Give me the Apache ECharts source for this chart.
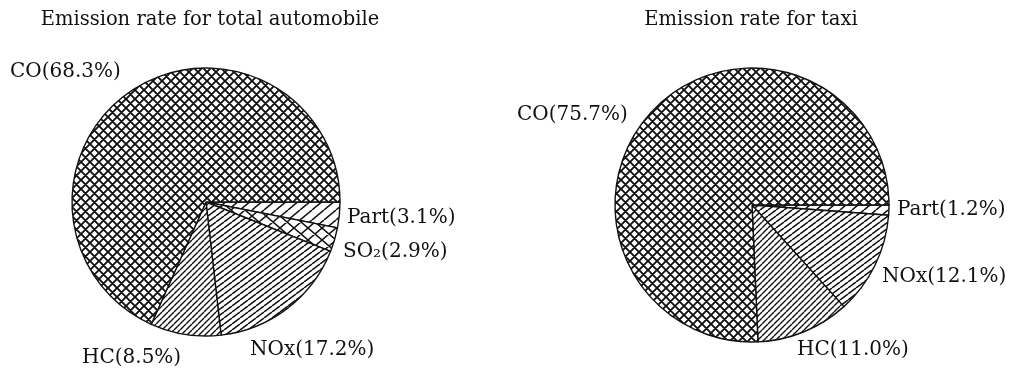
<!DOCTYPE html>
<html>
<head>
<meta charset="utf-8">
<script src="https://cdn.jsdelivr.net/npm/echarts@6/dist/echarts.min.js"></script>
<style>
  html, body { margin: 0; padding: 0; background: #fff; }
  #main { width: 1016px; height: 369px; }
</style>
</head>
<body>
<div id="main"></div>
<script>
// data
const totalNames = ['Part', 'SO₂', 'NOx', 'HC', 'CO']
const totalValues = [3.1, 2.9, 17.2, 8.5, 68.3]
const taxiNames = ['Part', 'NOx', 'HC', 'CO']
const taxiValues = [1.2, 12.1, 11.0, 75.7]
const titles = ['Emission rate for total automobile', 'Emission rate for taxi']

// label anchors (left edge, vertical middle of text)
const labelPos = [
  [[347, 218], [343, 252], [250, 350], [82, 358], [10, 72]],
  [[897, 210], [882, 277], [797, 350], [517, 115]]
]

const FONT = '20px "DejaVu Serif", "Liberation Serif", serif'

// hatch patterns on small w x h tiles; fwd = "/" lines, back = "\" lines
function hatch(w, h, lw, fwd, back) {
  const c = document.createElement('canvas')
  c.width = w; c.height = h
  const g = c.getContext('2d')
  g.fillStyle = '#fff'
  g.fillRect(0, 0, w, h)
  g.strokeStyle = '#111'
  g.lineWidth = lw
  g.beginPath()
  for (let k = -1; k <= 1; k++) {
    const o = k * w
    if (fwd) { g.moveTo(o, h); g.lineTo(o + w, 0) }
    if (back) { g.moveTo(o, 0); g.lineTo(o + w, h) }
  }
  g.stroke()
  return { image: c, repeat: 'repeat' }
}

const pat = {
  CO: hatch(9, 9, 1.9, true, true),
  NOx: hatch(8, 6, 1.5, true, false),
  HC: hatch(6, 6, 1.4, true, false),
  Part: hatch(12, 10, 1.5, true, false),
  'SO₂': hatch(14, 12, 1.5, true, true)
}

function buildData(names, values) {
  return names.map((n, i) => ({
    name: n,
    value: values[i],
    itemStyle: { color: pat[n] }
  }))
}

function buildLabels(names, values, pos) {
  return names.map((n, i) => ({
    type: 'text',
    x: pos[i][0],
    y: pos[i][1],
    silent: true,
    style: {
      text: n + '(' + values[i].toFixed(1) + '%)',
      font: FONT,
      fill: '#111',
      textAlign: 'left',
      textVerticalAlign: 'middle'
    }
  }))
}

const myChart = echarts.init(document.getElementById('main'))
const titleStyle = {
  fontFamily: '"DejaVu Serif", "Liberation Serif", serif',
  fontSize: 19.5,
  fontWeight: 'normal',
  color: '#111'
}
const option = {
  animation: false,
  title: [
    { text: titles[0], left: 205, top: 5, textAlign: 'center', textStyle: titleStyle },
    { text: titles[1], left: 746, top: 5, textAlign: 'center', textStyle: titleStyle }
  ],
  graphic: [
    ...buildLabels(totalNames, totalValues, labelPos[0]),
    ...buildLabels(taxiNames, taxiValues, labelPos[1])
  ],
  series: [
    {
      type: 'pie',
      center: [206, 202],
      radius: 134,
      startAngle: 0,
      clockwise: true,
      data: buildData(totalNames, totalValues),
      itemStyle: { borderColor: '#111', borderWidth: 1.4 },
      label: { show: false },
      labelLine: { show: false },
      emphasis: { disabled: true }
    },
    {
      type: 'pie',
      center: [752, 205],
      radius: 137,
      startAngle: 0,
      clockwise: true,
      data: buildData(taxiNames, taxiValues),
      itemStyle: { borderColor: '#111', borderWidth: 1.4 },
      label: { show: false },
      labelLine: { show: false },
      emphasis: { disabled: true }
    }
  ]
}
myChart.setOption(option)
</script>
</body>
</html>
